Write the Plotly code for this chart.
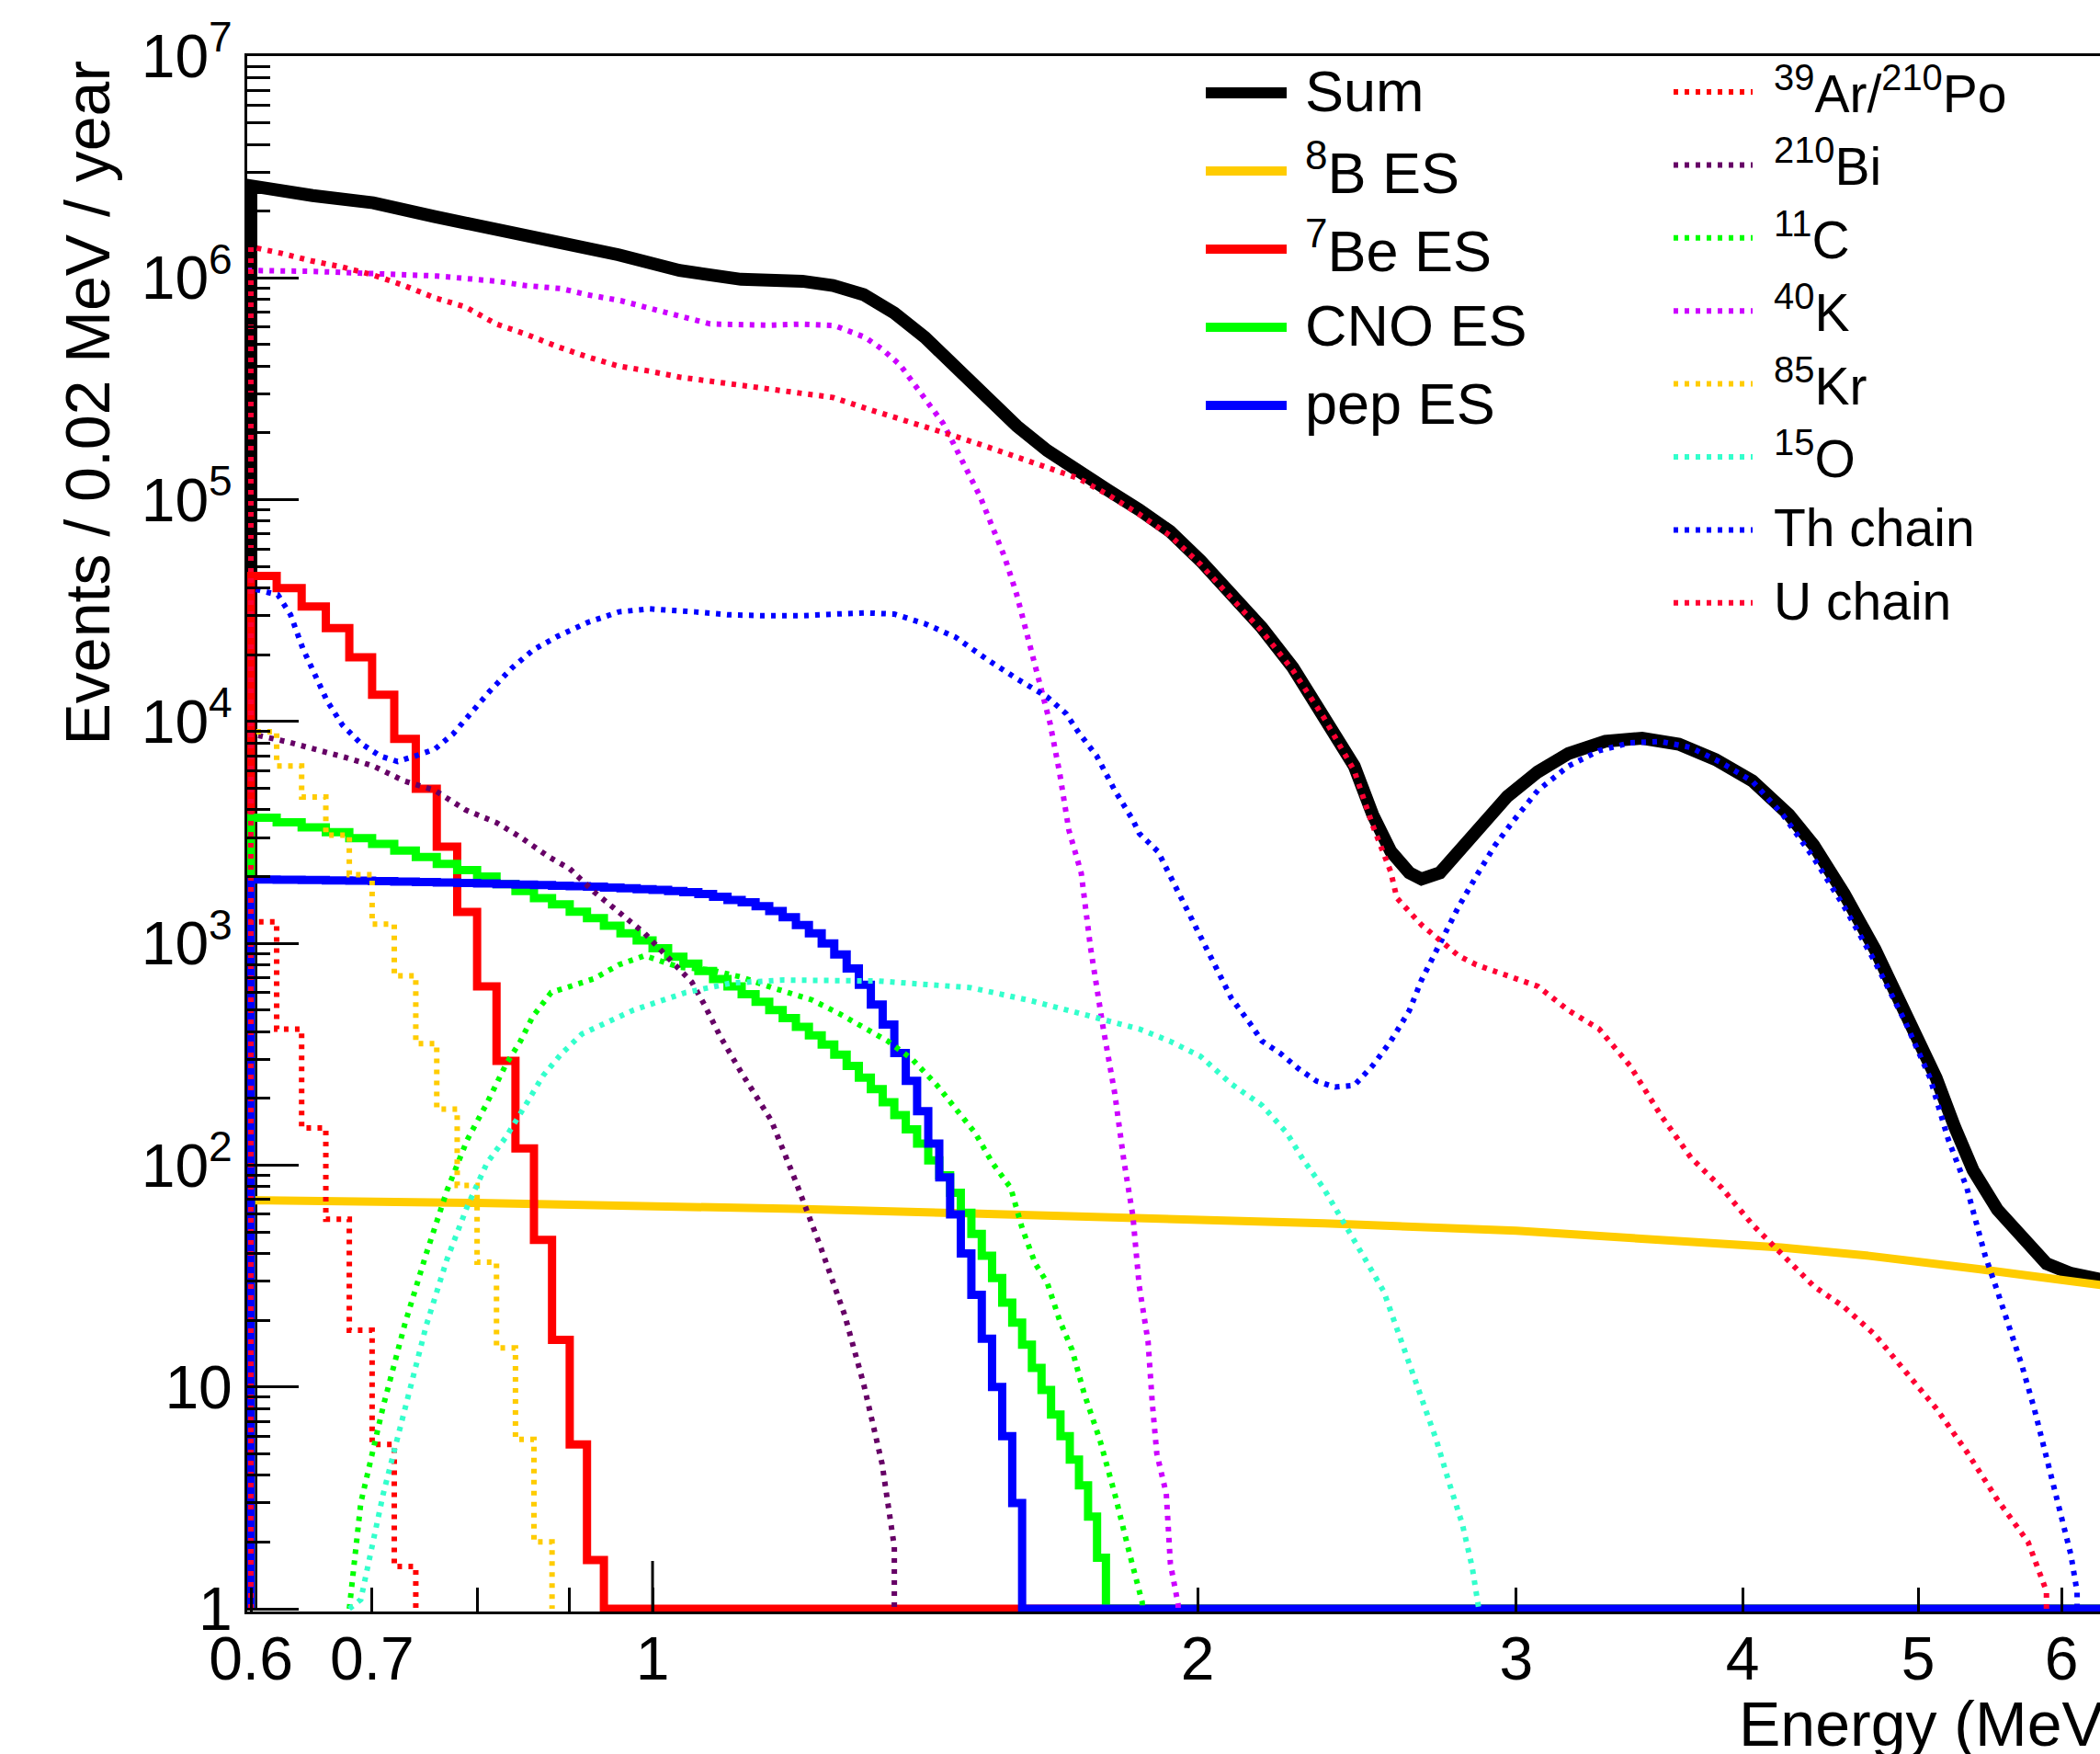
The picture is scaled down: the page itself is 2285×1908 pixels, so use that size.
import numpy as np
import plotly.graph_objects as go

# ---------------- data ----------------
BIN = 0.02          # MeV per bin
E_FIRST = 0.60      # lower edge of first bin

# per-bin histograms (bins of 0.02 MeV starting at 0.60 MeV)
be7_es = [45300, 39900, 33000, 26400, 19500, 13200, 8350, 4980, 2725, 1385,
          640, 295, 119, 46, 16.3, 5.5, 1.66]
cno_es = [3680, 3510, 3330, 3170, 2980, 2810, 2620, 2450, 2280, 2140,
          2000, 1850, 1720, 1600, 1500, 1390, 1300, 1200, 1110, 1030,
          950, 870, 810, 750, 690, 640, 590, 545, 500, 460,
          420, 385, 350, 315, 280, 248, 220, 192, 168, 145,
          125, 105, 90, 75, 61, 49, 39, 31, 24, 19.5,
          15.5, 12.2, 9.7, 7.5, 6.0, 4.7, 3.6, 2.6, 1.7]
pep_es = [1940, 1935, 1930, 1920, 1915, 1905, 1900, 1890, 1880, 1870,
          1860, 1850, 1840, 1830, 1820, 1810, 1800, 1785, 1770, 1755,
          1740, 1720, 1700, 1670, 1620, 1570, 1530, 1470, 1400, 1310,
          1210, 1110, 1000, 890, 770, 650, 530, 430, 320, 240,
          175, 125, 88, 60, 40, 26, 16.5, 10, 6.0, 3.0]
ar39_po210 = [1250, 410, 147, 57, 18, 5.5, 1.55]
kr85 = [9000, 6300, 4570, 3070, 2040, 1220, 713, 353, 179, 81, 36.5, 15.0, 5.8, 2.0]

# sampled curves (energy in MeV, events / 0.02 MeV / year)
sum_E = [0.6, 0.649, 0.701, 0.758, 0.820, 0.886, 0.958, 1.035, 1.119, 1.21, 1.258,
         1.308, 1.36, 1.414, 1.47, 1.528, 1.589, 1.652, 1.718, 1.786, 1.857, 1.931,
         2.008, 2.088, 2.171, 2.258, 2.347, 2.441, 2.499, 2.557, 2.618, 2.659, 2.722,
         2.787, 2.875, 2.966, 3.083, 3.206, 3.359, 3.52, 3.689, 3.865, 4.05, 4.243,
         4.378, 4.552, 4.733, 4.903, 5.117, 5.238, 5.362, 5.531, 5.751, 5.887, 6.073, 6.31]
sum_v = [2.6e6, 2.35e6, 2.18e6, 1.89e6, 1.67e6, 1.47e6, 1.27e6, 1.08e6, 9.85e5, 9.66e5, 9.24e5,
         8.4e5, 6.95e5, 5.39e5, 3.92e5, 2.86e5, 2.15e5, 1.665e5, 1.33e5, 1.10e5, 9.0e4, 7.2e4,
         5.3e4, 3.74e4, 2.64e4, 1.75e4, 1.085e4, 6.3e3, 3.8e3, 2.6e3, 2.08e3, 1.95e3, 2.08e3,
         2.6e3, 3.57e3, 4.6e3, 5.93e3, 7.18e3, 8.15e3, 8.41e3, 7.9e3, 6.74e3, 5.4e3, 3.8e3,
         2.77e3, 1.67e3, 941, 504, 247, 149, 95, 63, 43, 36, 32.5, 30.5]

b8_E = [0.6, 0.8, 1.0, 1.2, 1.5, 2.0, 2.35, 3.0, 3.7, 4.2, 4.7, 5.0, 5.4, 5.8, 6.31]
b8_v = [69.5, 67.5, 65.5, 63.5, 60.5, 57.0, 54.6, 50.6, 46.0, 42.5, 39.0, 37.0, 34.0, 31.5, 28.8]

u_E = [0.6, 0.624, 0.649, 0.674, 0.701, 0.729, 0.758, 0.788, 0.82, 0.852, 0.886, 0.921,
       0.958, 0.996, 1.035, 1.119, 1.21, 1.258, 1.308, 1.36, 1.414, 1.47, 1.528, 1.589,
       1.652, 1.718, 1.786, 1.857, 1.931, 2.008, 2.088, 2.171, 2.258, 2.347, 2.441, 2.499,
       2.557, 2.577, 2.659, 2.722, 2.787, 2.851, 2.966, 3.083, 3.206, 3.333, 3.466, 3.603,
       3.746, 3.895, 4.05, 4.211, 4.378, 4.552, 4.733, 4.922, 5.117, 5.32, 5.531, 5.751, 5.887]
u_v = [1.38e6, 1.29e6, 1.19e6, 1.12e6, 1.03e6, 9.24e5, 8.14e5, 7.4e5, 6.19e5, 5.56e5, 4.9e5, 4.4e5,
       4.0e5, 3.8e5, 3.57e5, 3.28e5, 3.04e5, 2.89e5, 2.6e5, 2.36e5, 2.15e5, 1.93e5, 1.74e5, 1.56e5,
       1.4e5, 1.25e5, 1.05e5, 8.6e4, 6.9e4, 5.1e4, 3.6e4, 2.55e4, 1.7e4, 1.05e4, 6.0e3, 3.4e3,
       2.1e3, 1.6e3, 1.21e3, 1.03e3, 880, 800, 720, 640, 498, 411, 281, 169,
       108, 79, 54, 39, 28.5, 22.9, 17.2, 11.7, 8.0, 5.1, 3.1, 2.0, 1.2]

k40_E = [0.6, 0.65, 0.70, 0.76, 0.82, 0.85, 0.89, 0.92, 0.96, 1.0, 1.035, 1.076, 1.12, 1.16,
         1.21, 1.26, 1.31, 1.34, 1.37, 1.39, 1.414, 1.447, 1.47, 1.493, 1.517, 1.541, 1.565,
         1.589, 1.608, 1.633, 1.658, 1.678, 1.698, 1.725, 1.745, 1.773, 1.80, 1.821, 1.842,
         1.857, 1.878, 1.888, 1.899, 1.922, 1.932, 1.951]
k40_v = [1.08e6, 1.07e6, 1.05e6, 1.02e6, 9.66e5, 9.24e5, 8.95e5, 8.4e5, 7.9e5, 7.2e5, 6.73e5, 6.2e5,
         6.12e5, 6.12e5, 6.19e5, 6.1e5, 5.4e5, 4.75e5, 4.05e5, 3.45e5, 2.86e5, 2.21e5, 1.72e5,
         1.33e5, 1.03e5, 7.5e4, 5.5e4, 3.74e4, 2.56e4, 1.63e4, 9.8e3, 5.9e3, 3.24e3, 2.07e3, 970,
         424, 211, 105, 59, 28.5, 16, 8.5, 5.0, 3.3, 1.6, 1.05]

th_E = [0.6, 0.621, 0.631, 0.641, 0.651, 0.661, 0.674, 0.690, 0.707, 0.723, 0.740, 0.758,
        0.776, 0.794, 0.813, 0.836, 0.859, 0.886, 0.921, 0.958, 0.996, 1.056, 1.10, 1.15,
        1.21, 1.26, 1.31, 1.36, 1.414, 1.47, 1.528, 1.589, 1.652, 1.692, 1.718, 1.759, 1.80,
        1.842, 1.857, 1.902, 1.931, 1.962, 1.993, 2.024, 2.056, 2.088, 2.137, 2.171, 2.222,
        2.274, 2.327, 2.382, 2.441, 2.499, 2.557, 2.618, 2.659, 2.700, 2.744, 2.787, 2.851,
        2.919, 2.988, 3.083, 3.206, 3.333, 3.466, 3.603, 3.746, 3.895, 4.05, 4.211, 4.378,
        4.552, 4.733, 4.922, 5.077, 5.195, 5.32, 5.446, 5.531, 5.618, 5.706, 5.796, 5.887,
        5.98, 6.073, 6.121]
th_v = [4.0e4, 3.72e4, 3.03e4, 2.13e4, 1.63e4, 1.24e4, 9.65e3, 7.97e3, 7.0e3, 6.6e3, 7.0e3, 7.5e3,
        8.8e3, 1.1e4, 1.37e4, 1.74e4, 2.1e4, 2.42e4, 2.8e4, 3.12e4, 3.22e4, 3.12e4, 3.03e4, 3.0e4,
        3.0e4, 3.05e4, 3.09e4, 3.05e4, 2.76e4, 2.4e4, 1.92e4, 1.56e4, 1.29e4, 1.085e4, 9.0e3,
        7.0e3, 4.9e3, 3.6e3, 3.13e3, 2.59e3, 2.01e3, 1.56e3, 1.21e3, 938, 728, 565, 438, 362,
        319, 272, 239, 225, 229, 281, 362, 497, 683, 880, 1.135e3, 1.46e3, 2.01e3, 2.76e3,
        3.56e3, 4.89e3, 6.3e3, 7.39e3, 8.02e3, 8.13e3, 7.63e3, 6.51e3, 5.38e3, 3.79e3, 2.43e3,
        1.46e3, 826, 438, 247, 131, 79, 39, 27, 18.3, 12.5, 8.0, 4.8, 2.9, 1.75, 1.19]

bi210_E = [0.6, 0.6285, 0.653, 0.676, 0.701, 0.729, 0.758, 0.788, 0.82, 0.846, 0.876, 0.90,
           0.928, 0.958, 0.99, 1.023, 1.051, 1.068, 1.09, 1.119, 1.14, 1.163, 1.2, 1.238,
           1.277, 1.308, 1.339, 1.36]
bi210_v = [8.8e3, 8.1e3, 7.5e3, 6.9e3, 6.3e3, 5.4e3, 4.9e3, 4.0e3, 3.5e3, 3.0e3, 2.46e3, 2.17e3,
           1.71e3, 1.39e3, 1.11e3, 840, 670, 530, 380, 263, 205, 159, 84, 43,
           21, 10.3, 4.5, 1.9]

c11_E = [0.68, 0.69, 0.71, 0.73, 0.75, 0.77, 0.79, 0.81, 0.83, 0.845, 0.8586, 0.879, 0.928,
         0.958, 0.99, 1.035, 1.076, 1.119, 1.163, 1.224, 1.268, 1.308, 1.349, 1.392, 1.436,
         1.47, 1.507, 1.541, 1.577, 1.60, 1.627, 1.652, 1.678, 1.705, 1.731, 1.766, 1.80,
         1.835, 1.864]
c11_v = [1.0, 3.0, 8.2, 19.4, 40, 77, 130, 190, 285, 360, 467, 600, 692,
         800, 880, 780, 760, 705, 633, 557, 482, 416, 362, 299, 229,
         180, 140, 102, 79, 52, 36, 29.5, 20, 14.7, 9.4, 5.8, 3.3,
         1.75, 1.07]

o15_E = [0.68, 0.69, 0.71, 0.73, 0.75, 0.77, 0.79, 0.81, 0.83, 0.85, 0.87, 0.89, 0.914,
         0.976, 1.043, 1.105, 1.181, 1.333, 1.499, 1.62, 1.753, 1.857, 1.931, 2.008, 2.088,
         2.171, 2.24, 2.289, 2.347, 2.407, 2.469, 2.534, 2.576, 2.62, 2.664, 2.709, 2.754,
         2.801, 2.836, 2.86]
o15_v = [1.0, 1.1, 3.3, 8.2, 19, 37.7, 65, 102, 134, 184, 253, 316, 390,
         500, 600, 662, 683, 676, 631, 550, 468, 411, 362, 309, 232,
         186, 140, 105, 79, 56, 39, 27, 18.3, 12.5, 8.5, 5.8, 3.7,
         2.4, 1.54, 1.05]

# ---------------- geometry / style ----------------
W, H = 2285, 1908
L, R, T, B = 269, 0, 61, 155          # plot frame in pixels
PW, PH = W - L - R, H - T - B
PX_PER_DEC_X = 1970.0
PX_PER_DEC_Y = (PH - 3) / 7.0
E_LO, Y_LO = 0.6, 1.0
X_RANGE = [np.log10(E_LO) - 4 / PX_PER_DEC_X, np.log10(E_LO) + (PW - 4) / PX_PER_DEC_X]
Y_RANGE = [-3 / PX_PER_DEC_Y, 7]
E_HI = 10 ** X_RANGE[1]
FONT = "Liberation Sans, Arial, Helvetica, sans-serif"
DOT = "5px,7px"
W_SUM, W_ES, W_DOT = 14, 9, 6


def fx(xpix):
    return (xpix - L) / PW


def fy(ypix):
    return (H - B - ypix) / PH


def hist_xy(vals, extend=False):
    n = len(vals)
    edges = E_FIRST + BIN * np.arange(n + 1)
    x = [edges[0]] + list(edges[:-1]) + [edges[-1], edges[-1]]
    y = [Y_LO] + list(vals) + [vals[-1], Y_LO]
    if extend:
        x.append(E_HI * 1.05)
        y.append(Y_LO)
    return x, list(np.maximum(y, Y_LO))


def curve_xy(E, v, start=True, end=True):
    x, y = list(E), list(v)
    if start:
        x, y = [E[0]] + x, [Y_LO] + y
    if end:
        x, y = x + [E[-1]], y + [Y_LO]
    return x, list(np.maximum(y, Y_LO))


fig = go.Figure()


def add(x, y, color, width, dash=None, shape="linear"):
    fig.add_trace(go.Scatter(x=x, y=y, mode="lines", showlegend=False, hoverinfo="skip",
                             line=dict(color=color, width=width, dash=dash, shape=shape)))


C_SUM, C_B8, C_BE7, C_CNO, C_PEP = "#000000", "#ffcc00", "#ff0000", "#00ff00", "#0000ff"
C_AR, C_BI, C_C11, C_K40, C_KR, C_O15, C_TH, C_U = ("#ff0000", "#660066", "#00ff00", "#cc00ff",
                                                   "#ffcc00", "#33ffcc", "#0000ff", "#ff0033")

add(*curve_xy(sum_E, sum_v, end=False), C_SUM, W_SUM)
add(*curve_xy(b8_E, b8_v, end=False), C_B8, W_ES)
add(*hist_xy(be7_es, extend=True), C_BE7, W_ES, shape="hv")
add(*hist_xy(cno_es, extend=True), C_CNO, W_ES, shape="hv")
add(*hist_xy(pep_es, extend=True), C_PEP, W_ES, shape="hv")
add(*hist_xy(ar39_po210), C_AR, W_DOT, DOT, shape="hv")
add(*curve_xy(bi210_E, bi210_v), C_BI, W_DOT, DOT)
add(*curve_xy(c11_E, c11_v, start=False), C_C11, W_DOT, DOT)
add(*curve_xy(k40_E, k40_v), C_K40, W_DOT, DOT)
add(*hist_xy(kr85), C_KR, W_DOT, DOT, shape="hv")
add(*curve_xy(o15_E, o15_v, start=False), C_O15, W_DOT, DOT)
add(*curve_xy(th_E, th_v), C_TH, W_DOT, DOT)
add(*curve_xy(u_E, u_v), C_U, W_DOT, DOT)

# ---------------- axes ----------------
x_ticks = [0.6, 0.7, 1, 2, 3, 4, 5, 6]
x_text = ["0.6", "0.7", "1", "2", "3", "4", "5", "6"]
x_minor = [0.8, 0.9]
y_ticks = [10 ** k for k in range(8)]
y_text = ["1", "10"] + ["10<sup>%d</sup>" % k for k in range(2, 8)]
y_minor = [m * 10 ** k for k in range(7) for m in range(2, 10)]

fig.update_layout(
    width=W, height=H, margin=dict(l=L, r=R, t=T, b=B),
    paper_bgcolor="white", plot_bgcolor="white",
    font=dict(family=FONT, color="black"),
    xaxis=dict(type="log", range=X_RANGE,
               tickmode="array", tickvals=x_ticks, ticktext=x_text,
               ticks="inside", ticklen=26, tickwidth=3, tickcolor="black",
               ticklabelstandoff=-8,
               minor=dict(tickmode="array", tickvals=x_minor, ticks="inside",
                          ticklen=26, tickwidth=3, tickcolor="black", showgrid=False),
               showline=True, linewidth=3, linecolor="black", mirror=True,
               showgrid=False, zeroline=False,
               tickfont=dict(family=FONT, size=66, color="black")),
    yaxis=dict(type="log", range=Y_RANGE,
               tickmode="array", tickvals=y_ticks, ticktext=y_text,
               ticks="inside", ticklen=56, tickwidth=3, tickcolor="black",
               minor=dict(tickmode="array", tickvals=y_minor, ticks="inside",
                          ticklen=25, tickwidth=3, tickcolor="black", showgrid=False),
               showline=True, linewidth=3, linecolor="black",
               showgrid=False, zeroline=False,
               tickfont=dict(family=FONT, size=66, color="black")),
)

# long tick at 1 MeV
fig.add_shape(type="line", xref="x", yref="y domain", x0=1, x1=1, y0=0, y1=55 / PH,
              line=dict(color="black", width=3))

# axis titles
fig.add_annotation(text="Energy (MeV)", xref="paper", yref="paper", x=fx(1890), y=fy(1875),
                   xanchor="left", yanchor="middle", showarrow=False,
                   font=dict(family=FONT, size=68, color="black"))
fig.add_annotation(text="Events / 0.02 MeV / year", xref="paper", yref="paper",
                   x=fx(95), y=fy(64), textangle=-90, xanchor="center", yanchor="top",
                   showarrow=False, font=dict(family=FONT, size=68, color="black"))

# ---------------- legends ----------------
legend1 = [("Sum", C_SUM, 12), ("<sup>8</sup>B ES", C_B8, 10),
           ("<sup>7</sup>Be ES", C_BE7, 10), ("CNO ES", C_CNO, 10),
           ("pep ES", C_PEP, 10)]
legend2 = [("<sup>39</sup>Ar/<sup>210</sup>Po", C_AR), ("<sup>210</sup>Bi", C_BI),
           ("<sup>11</sup>C", C_C11), ("<sup>40</sup>K", C_K40), ("<sup>85</sup>Kr", C_KR),
           ("<sup>15</sup>O", C_O15), ("Th chain", C_TH), ("U chain", C_U)]

for i, (txt, col, wd) in enumerate(legend1):
    yrow = 101 + 85 * i
    fig.add_shape(type="line", xref="paper", yref="paper", x0=fx(1312), x1=fx(1400),
                  y0=fy(yrow), y1=fy(yrow), line=dict(color=col, width=wd))
    fig.add_annotation(text=txt, xref="paper", yref="paper", x=fx(1418), y=fy(yrow - 2),
                       xanchor="left", yanchor="middle", showarrow=False,
                       font=dict(family=FONT, size=63, color="black"))

for i, (txt, col) in enumerate(legend2):
    yrow = 100 + 79.4 * i
    fig.add_shape(type="line", xref="paper", yref="paper", x0=fx(1821), x1=fx(1907),
                  y0=fy(yrow), y1=fy(yrow), line=dict(color=col, width=W_DOT, dash=DOT))
    fig.add_annotation(text=txt, xref="paper", yref="paper", x=fx(1928), y=fy(yrow - 2),
                       xanchor="left", yanchor="middle", showarrow=False,
                       font=dict(family=FONT, size=57, color="black"))

fig.write_html("out.html")
